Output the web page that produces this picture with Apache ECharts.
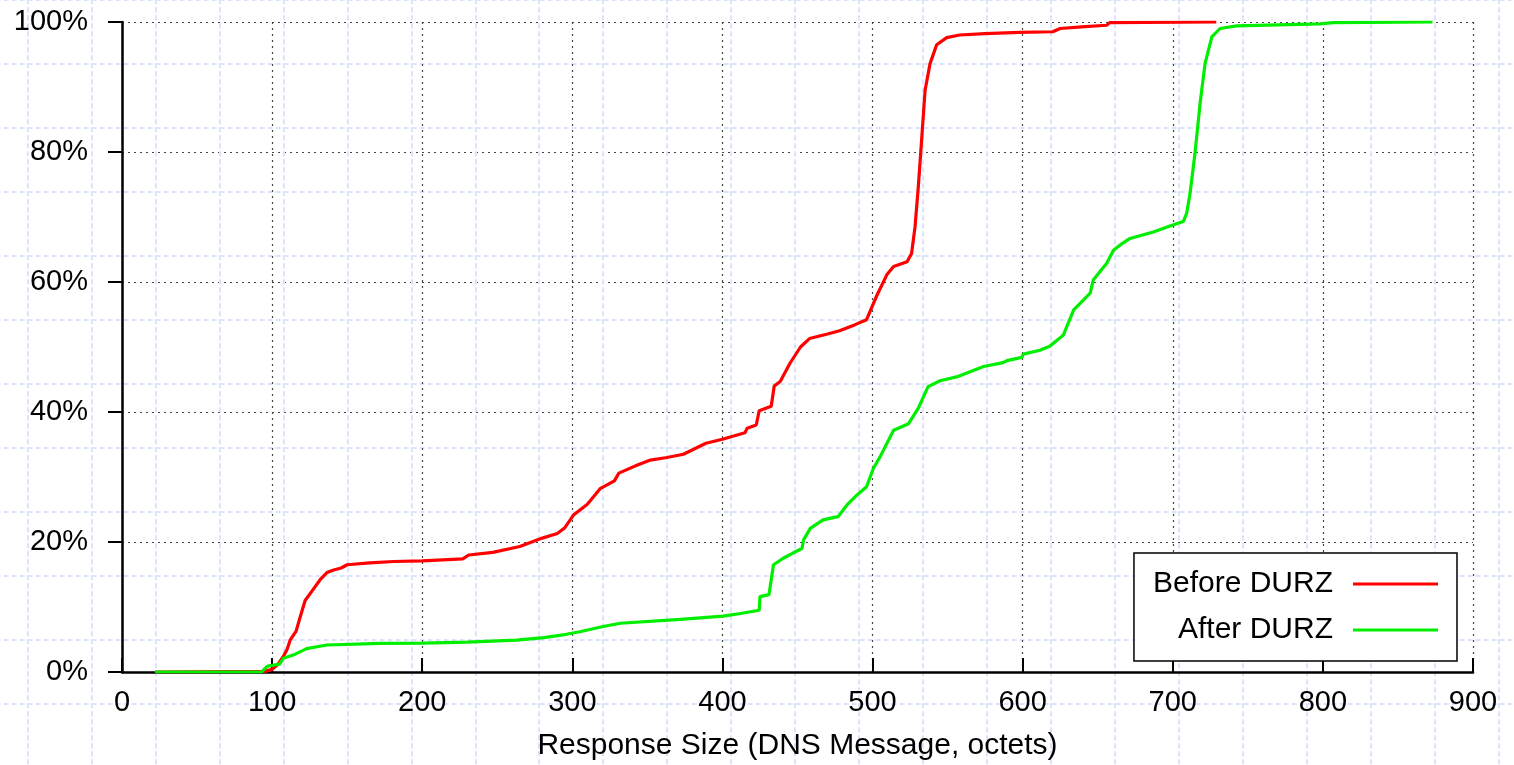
<!DOCTYPE html>
<html>
<head>
<meta charset="utf-8">
<script src="https://cdn.jsdelivr.net/npm/echarts@6/dist/echarts.min.js"></script>
<style>
  html, body { margin: 0; padding: 0; background: #fff; }
  #chart { width: 1514px; height: 765px; }
</style>
</head>
<body>
<div id="chart"></div>
<script>
// 数据
const beforeX = [22, 95, 100, 104, 107.5, 110, 112, 116, 118.5, 122, 127, 132, 136.5, 141, 146, 150, 165, 181, 200, 227, 231,
  247, 265, 280, 290, 295, 301, 310, 318.5, 328, 331, 343, 352, 363, 374, 389, 400, 415, 416.5, 422.5, 424.5,
  432.5, 434.5, 438.5, 445, 452, 458, 470, 478, 488, 496, 503, 509.5, 514, 523, 526, 528.3, 530.5, 533, 535, 538.3,
  542.7, 549.4, 558, 575, 598, 620, 625, 641.6, 656, 658, 729];
const beforeY = [0, 0.1, 0.4, 1.2, 2.4, 3.5, 4.9, 6.3, 8.3, 11.0, 12.6, 14.2, 15.3, 15.7, 16.0, 16.5, 16.8, 17.0, 17.1, 17.4, 18.0,
  18.4, 19.3, 20.6, 21.3, 22.2, 24.2, 25.8, 28.2, 29.4, 30.6, 31.8, 32.6, 33.0, 33.5, 35.2, 35.8, 36.8, 37.5, 38.0, 40.2,
  40.9, 44.0, 44.7, 47.5, 50.0, 51.3, 52.0, 52.5, 53.4, 54.2, 58.0, 61.1, 62.4, 63.1, 64.4, 68.5, 74.7, 82.9, 89.5, 93.6,
  96.5, 97.6, 98.0, 98.2, 98.4, 98.5, 99.0, 99.3, 99.5, 99.9, 100];

const afterX = [22, 93, 95, 97, 105, 107.5, 114, 123, 136.5, 172, 200, 230, 263, 281, 296, 305, 320.5, 332, 372, 400.5,
  412, 424.5, 425, 431, 434, 440.5, 447, 453, 454, 458.5, 467, 477, 483, 489.5, 496, 500.5, 505, 514, 524, 530.5,
  537, 545, 556, 574, 587, 589.5, 599.5, 600.5, 611.5, 618, 627, 634, 645, 647, 656, 660.5, 665, 671.5, 687, 700.5,
  707, 709.3, 711.5, 714.8, 718.2, 721.5, 726, 731.5, 742.6, 798, 807, 873];
const afterY = [0, 0, 0.5, 0.9, 1.2, 2.1, 2.6, 3.6, 4.15, 4.4, 4.45, 4.6, 4.9, 5.3, 5.8, 6.2, 7.0, 7.5, 8.1, 8.6,
  9.0, 9.5, 11.6, 11.9, 16.5, 17.5, 18.3, 19.0, 20.3, 22.1, 23.4, 23.9, 25.7, 27.2, 28.5, 31.3, 33.1, 37.2, 38.2, 40.6,
  43.9, 44.8, 45.4, 47.0, 47.6, 47.9, 48.4, 48.9, 49.5, 50.1, 51.8, 55.7, 58.3, 60.3, 62.9, 64.9, 65.7, 66.7, 67.7, 68.8,
  69.3, 70.6, 73.6, 79.8, 87.5, 93.6, 97.7, 99.0, 99.4, 99.7, 99.9, 100];

const seriesNames = ['Before DURZ', 'After DURZ'];
const xTitle = 'Response Size (DNS Message, octets)';

const font = 'Liberation Sans, Arial, Helvetica, sans-serif';
const toPairs = (xs, ys) => xs.map((x, i) => [x, ys[i]]);

let chart = echarts.init(document.getElementById('chart'));
chart.setOption({
  animation: false,
  backgroundColor: '#fff',
  textStyle: { fontFamily: font },
  grid: [
    // 背景的方格纸
    { left: -36.35, top: -0.7, width: 63.95 * 25, height: 64 * 13, outerBoundsMode: 'none' },
    // 主图
    { left: 122, right: 41, top: 22, bottom: 93, outerBoundsMode: 'none' }
  ],
  legend: {
    orient: 'vertical',
    right: 57,
    top: 553,
    align: 'right',
    icon: 'rect',
    itemWidth: 85,
    itemHeight: 3,
    itemGap: 16,
    padding: [16, 19, 16, 19],
    borderColor: '#000',
    borderWidth: 1.5,
    backgroundColor: '#fff',
    textStyle: { fontSize: 30, color: '#000', fontFamily: font, padding: [0, 15, 0, 0] },
    data: seriesNames
  },
  xAxis: [
    {
      gridIndex: 0, type: 'value', min: 0, max: 25, interval: 1, z: 0,
      axisLine: { show: false }, axisTick: { show: false }, axisLabel: { show: false },
      splitLine: { show: true, lineStyle: { color: '#dbe2fb', width: 2, type: [5, 3] } }
    },
    {
      gridIndex: 1, type: 'value', min: 0, max: 900, interval: 100,
      name: xTitle, nameLocation: 'middle', nameGap: 59,
      nameTextStyle: { fontSize: 30, color: '#000', fontFamily: font },
      axisLine: { lineStyle: { color: '#000', width: 2.5 } },
      axisTick: { inside: true, length: 14, lineStyle: { color: '#000', width: 2 } },
      axisLabel: { fontSize: 29, color: '#000', margin: 16, fontFamily: font },
      splitLine: { show: true, lineStyle: { color: '#444', width: 1.2, type: [2, 4] } }
    }
  ],
  yAxis: [
    {
      gridIndex: 0, type: 'value', min: 0, max: 13, interval: 1, z: 0,
      axisLine: { show: false }, axisTick: { show: false }, axisLabel: { show: false },
      splitLine: { show: true, lineStyle: { color: '#dbe2fb', width: 2, type: [5, 3] } }
    },
    {
      gridIndex: 1, type: 'value', min: 0, max: 100, interval: 20,
      axisLine: { show: true, lineStyle: { color: '#000', width: 2.5 } },
      axisTick: { show: true, inside: false, length: 14, lineStyle: { color: '#000', width: 2 } },
      axisLabel: { fontSize: 29, color: '#000', margin: 34, formatter: '{value}%', fontFamily: font },
      splitLine: { show: true, lineStyle: { color: '#444', width: 1.2, type: [2, 4] } }
    }
  ],
  series: [
    {
      name: seriesNames[0], type: 'line', xAxisIndex: 1, yAxisIndex: 1,
      showSymbol: false, symbol: 'none', color: '#ff0000',
      lineStyle: { width: 3.2, color: '#ff0000' },
      data: toPairs(beforeX, beforeY)
    },
    {
      name: seriesNames[1], type: 'line', xAxisIndex: 1, yAxisIndex: 1,
      showSymbol: false, symbol: 'none', color: '#00ee00',
      lineStyle: { width: 3.2, color: '#00ee00' },
      data: toPairs(afterX, afterY)
    }
  ]
});
</script>
</body>
</html>
